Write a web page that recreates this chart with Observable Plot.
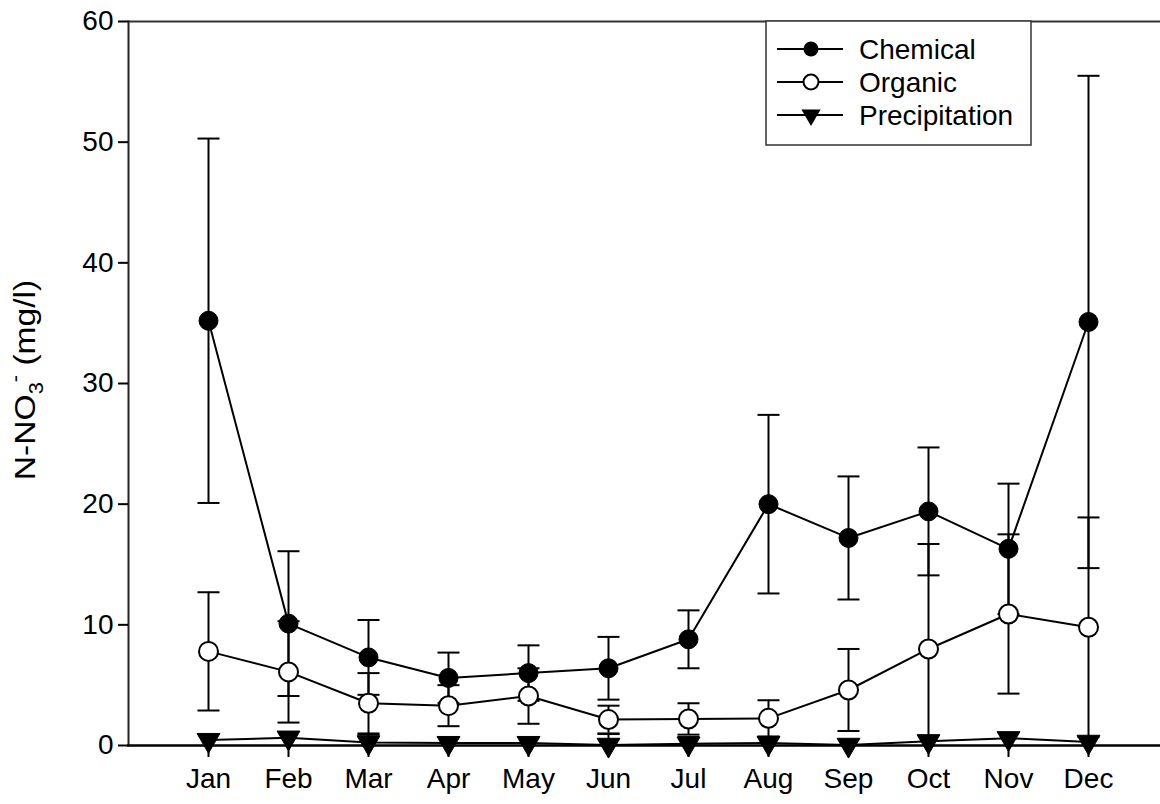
<!DOCTYPE html>
<html>
<head>
<meta charset="utf-8">
<script src="https://cdn.jsdelivr.net/npm/d3@7"></script>
<script src="https://cdn.jsdelivr.net/npm/@observablehq/plot@0.6"></script>
<style>
  html, body { margin: 0; padding: 0; background: #fff; }
  #chart { width: 1160px; height: 804px; }
  svg { font-family: "Liberation Sans", Arial, sans-serif; }
</style>
</head>
<body>
<div id="chart"></div>
<script>
const months = ["Jan","Feb","Mar","Apr","May","Jun","Jul","Aug","Sep","Oct","Nov","Dec"];
const chemical    = [35.2, 10.1, 7.3, 5.6, 6.0, 6.4, 8.8, 20.0, 17.2, 19.4, 16.3, 35.1];
const chemicalErr = [15.1, 6.0, 3.1, 2.1, 2.3, 2.6, 2.4, 7.4, 5.1, 5.3, 5.4, 20.4];
const organic     = [7.8, 6.1, 3.5, 3.3, 4.1, 2.15, 2.2, 2.25, 4.6, 8.0, 10.9, 9.8];
const organicErr  = [4.9, 4.2, 2.5, 1.7, 2.3, 1.15, 1.3, 1.5, 3.4, 8.7, 6.6, 9.1];
const precip      = [0.45, 0.65, 0.25, 0.2, 0.2, 0.05, 0.15, 0.2, 0.05, 0.35, 0.6, 0.3];
const precipErr   = [0, 0, 0.65, 0, 0, 0.9, 0.55, 0, 0, 0, 0, 0];
const seriesNames = ["Chemical", "Organic", "Precipitation"];
const yTicks = [0, 10, 20, 30, 40, 50, 60];

const series = [
  {name: seriesNames[0], mean: chemical, err: chemicalErr},
  {name: seriesNames[1], mean: organic, err: organicErr},
  {name: seriesNames[2], mean: precip, err: precipErr}
];
const rows = series.flatMap(s => months.map((m, i) => ({
  series: s.name, month: m, value: s.mean[i],
  lo: s.mean[i] - s.err[i], hi: s.mean[i] + s.err[i]
})));
const bySeries = name => rows.filter(d => d.series === name);
const withErr = rows.filter(d => d.hi !== d.lo);

const capSymbol = {
  draw(context) { context.moveTo(-11, 0); context.lineTo(11, 0); }
};
const FONT = 28;

const chart = Plot.plot({
  width: 1160,
  height: 804,
  marginLeft: 128,
  marginRight: 0,
  marginTop: 21,
  marginBottom: 59,
  style: {fontFamily: '"Liberation Sans", Arial, sans-serif', background: "white", color: "black"},
  x: {type: "point", domain: months, range: [128, 1168], padding: 1},
  y: {domain: [0, 60]},
  marks: [
    Plot.frame({anchor: "top", stroke: "#333", strokeWidth: 2}),
    Plot.frame({anchor: "left", stroke: "#222", strokeWidth: 2}),
    Plot.axisY({ticks: yTicks, tickSize: 10, tickPadding: 5, fontSize: FONT, strokeWidth: 2, label: null}),
    Plot.axisX({tickSize: 12, tickPadding: 11, fontSize: FONT, strokeWidth: 2, label: null}),
    // error bars
    Plot.ruleX(withErr, {x: "month", y1: "lo", y2: "hi", stroke: "black", strokeWidth: 2, clip: true}),
    Plot.dot(withErr, {x: "month", y: "hi", symbol: capSymbol, stroke: "black", strokeWidth: 2, fill: "none", clip: true}),
    Plot.dot(withErr, {x: "month", y: "lo", symbol: capSymbol, stroke: "black", strokeWidth: 2, fill: "none", clip: true}),
    // lines
    ...seriesNames.map(n => Plot.line(bySeries(n), {x: "month", y: "value", stroke: "black", strokeWidth: 2})),
    Plot.frame({anchor: "bottom", stroke: "black", strokeWidth: 2.5}),
    // symbols
    Plot.dot(bySeries("Chemical"), {x: "month", y: "value", r: 9.5, fill: "black", stroke: "black", strokeWidth: 1}),
    Plot.dot(bySeries("Organic"), {x: "month", y: "value", r: 9.5, fill: "white", stroke: "black", strokeWidth: 2}),
    Plot.dot(bySeries("Precipitation"), {x: "month", y: "value", symbol: "triangle", r: 8.5, rotate: 180, fill: "black", stroke: "black", strokeWidth: 1})
  ]
});
document.getElementById("chart").appendChild(chart);

// Y axis label with subscript / superscript
const svg = d3.select(chart);
const LFONT = 30;
const lbl = svg.append("text")
  .attr("transform", "translate(35,380) rotate(-90) scale(1.12,1)")
  .attr("text-anchor", "middle")
  .attr("font-size", LFONT)
  .attr("fill", "black");
lbl.append("tspan").text("N-NO");
lbl.append("tspan").attr("font-size", LFONT * 0.65).attr("dy", 8).text("3");
lbl.append("tspan").attr("font-size", LFONT * 0.65).attr("dy", -21).text("-");
lbl.append("tspan").attr("dy", 13).text(" (mg/l)");

// Legend
const lg = svg.append("g").attr("text-anchor", "start");
lg.append("rect").attr("x", 766).attr("y", 21).attr("width", 265).attr("height", 124)
  .attr("fill", "white").attr("stroke", "#333").attr("stroke-width", 1.5);
const rowY = [49, 82, 115];
const triangle = d3.symbol(d3.symbolTriangle, 160)();
seriesNames.forEach((name, i) => {
  const y = rowY[i];
  lg.append("line").attr("x1", 777).attr("x2", 843).attr("y1", y).attr("y2", y)
    .attr("stroke", "black").attr("stroke-width", 2);
  if (i === 0) lg.append("circle").attr("cx", 811).attr("cy", y).attr("r", 7.5).attr("fill", "black");
  if (i === 1) lg.append("circle").attr("cx", 811).attr("cy", y).attr("r", 7.5).attr("fill", "white").attr("stroke", "black").attr("stroke-width", 2);
  if (i === 2) lg.append("path").attr("d", triangle).attr("transform", `translate(811,${y}) rotate(180)`).attr("fill", "black");
  lg.append("text").attr("x", 859).attr("y", y).attr("dy", "0.36em")
    .attr("text-anchor", "start")
    .attr("font-size", FONT).attr("fill", "black").text(name);
});
</script>
</body>
</html>
